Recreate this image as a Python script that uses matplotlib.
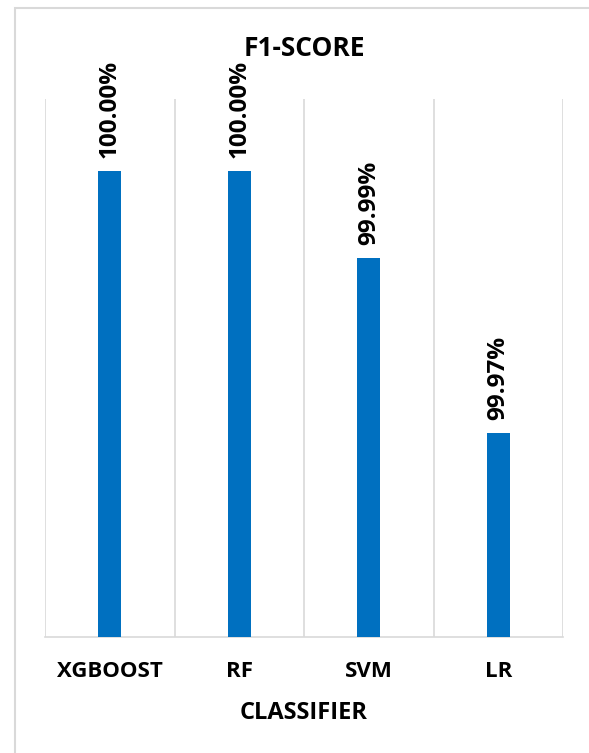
import matplotlib.pyplot as plt
from matplotlib.patches import Rectangle

classifiers = ["XGBOOST", "RF", "SVM", "LR"]
f1_scores = [100.00, 100.00, 99.99, 99.97]
value_labels = ["100.00%", "100.00%", "99.99%", "99.97%"]

bar_color = "#0070C0"
grid_color = "#D9D9D9"

plt.rcParams["font.family"] = ["Open Sans", "DejaVu Sans"]

fig = plt.figure(figsize=(5.89, 7.53), dpi=100)
ax = fig.add_axes([45 / 589, 116 / 753, 518 / 589, 538 / 753])

# chart frame (only left and top edges fall inside the canvas)
fig.patches.append(Rectangle((15 / 589, -0.1), 1.2, 0.1 + 745 / 753,
                             transform=fig.transFigure, fill=False,
                             edgecolor=grid_color, linewidth=1.5))

x = range(len(classifiers))
ax.bar(x, f1_scores, width=0.18, color=bar_color, zorder=3)
ax.set_ylim(99.9466, 100.0082)
ax.set_xlim(-0.5, len(classifiers) - 0.5)

for xi, v, lab in zip(x, f1_scores, value_labels):
    ax.annotate(lab, (xi, v), xytext=(0, 9), textcoords="offset points",
                rotation=90, ha="center", va="bottom",
                fontsize=17.5, fontweight="bold")

# category dividers
ax.set_xticks([i - 0.5 for i in range(len(classifiers) + 1)], minor=True)
ax.grid(True, which="minor", axis="x", color=grid_color, linewidth=1.2, zorder=0)
ax.set_xticks(list(x))
ax.set_xticklabels(classifiers, fontsize=16, fontweight="bold")
ax.tick_params(axis="x", which="both", length=0, pad=17)
ax.set_yticks([])

for side in ["left", "right", "top"]:
    ax.spines[side].set_visible(False)
ax.spines["bottom"].set_color(grid_color)
ax.spines["bottom"].set_linewidth(1.2)

ax.set_xlabel("CLASSIFIER", fontsize=17, fontweight="bold", labelpad=14)
fig.text(304 / 589, 1 - 48 / 753, "F1-SCORE", ha="center", va="center",
         fontsize=19, fontweight="bold")

fig.savefig("out.png", dpi=100)
